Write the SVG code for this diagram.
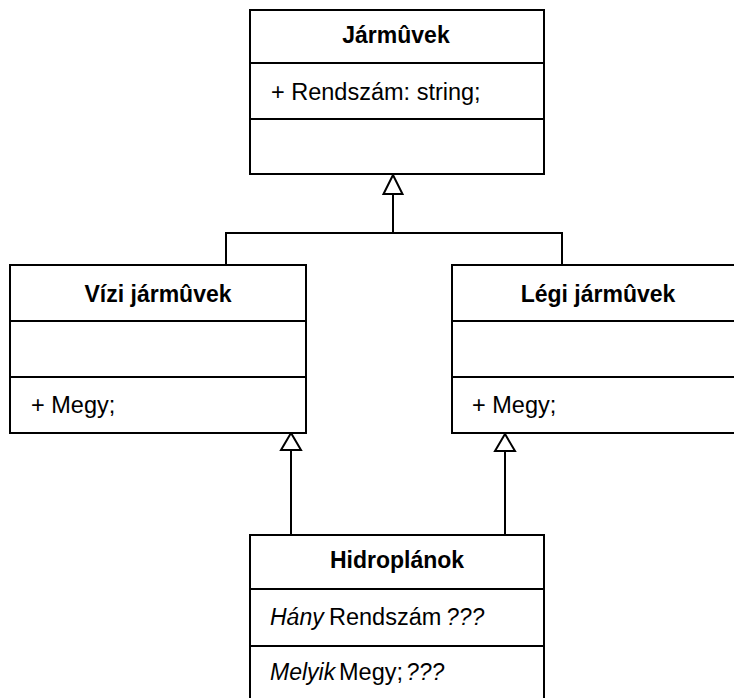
<svg xmlns="http://www.w3.org/2000/svg" width="734" height="698" viewBox="0 0 734 698">
<style>
.box{fill:#fff;stroke:#000;stroke-width:2}
.div{stroke:#000;stroke-width:2}
.t{font-family:"Liberation Sans",Arial,sans-serif;font-size:23.5px;fill:#000}
.h{font-weight:bold;text-anchor:middle;font-size:23px}
.i{font-style:italic;font-size:23px}
.c{fill:none;stroke:#000;stroke-width:2}
.tri{fill:#fff;stroke:#000;stroke-width:2}
</style>
<rect width="734" height="698" fill="#fff"/>
<g id="connectors">
<line class="c" x1="393" y1="194" x2="393" y2="233"/>
<polyline class="c" points="226,265 226,233 562,233 562,265"/>
<polygon class="tri" points="393,175 383.5,194 402.5,194"/>
<line class="c" x1="291" y1="450" x2="291" y2="535"/>
<polygon class="tri" points="291,433 281,450 301,450"/>
<line class="c" x1="505" y1="451" x2="505" y2="535"/>
<polygon class="tri" points="505,434 495,451 515,451"/>
</g>
<g id="jarmuvek">
<rect class="box" x="250" y="10" width="294" height="164"/>
<line class="div" x1="250" y1="63" x2="544" y2="63"/>
<line class="div" x1="250" y1="119" x2="544" y2="119"/>
<text class="t h" x="396" y="43">Jármûvek</text>
<text class="t" x="271" y="100">+ Rendszám: string;</text>
</g>
<g id="vizi">
<rect class="box" x="10" y="265" width="296" height="168"/>
<line class="div" x1="10" y1="321" x2="306" y2="321"/>
<line class="div" x1="10" y1="377" x2="306" y2="377"/>
<text class="t h" x="158" y="302">Vízi jármûvek</text>
<text class="t" x="31" y="413">+ Megy;</text>
</g>
<g id="legi">
<rect class="box" x="452" y="265" width="294" height="168"/>
<line class="div" x1="452" y1="321" x2="746" y2="321"/>
<line class="div" x1="452" y1="377" x2="746" y2="377"/>
<text class="t h" x="598" y="302">Légi jármûvek</text>
<text class="t" x="472" y="413">+ Megy;</text>
</g>
<g id="hidroplanok">
<rect class="box" x="250" y="535" width="294" height="180"/>
<line class="div" x1="250" y1="589" x2="544" y2="589"/>
<line class="div" x1="250" y1="646" x2="544" y2="646"/>
<text class="t h" x="397" y="568">Hidroplánok</text>
<text class="t" y="625"><tspan class="i" x="270">Hány</tspan><tspan x="329">Rendszám</tspan><tspan class="i" x="446">???</tspan></text>
<text class="t" y="680"><tspan class="i" x="270">Melyik</tspan><tspan x="339">Megy;</tspan><tspan class="i" x="406">???</tspan></text>
</g>
</svg>
